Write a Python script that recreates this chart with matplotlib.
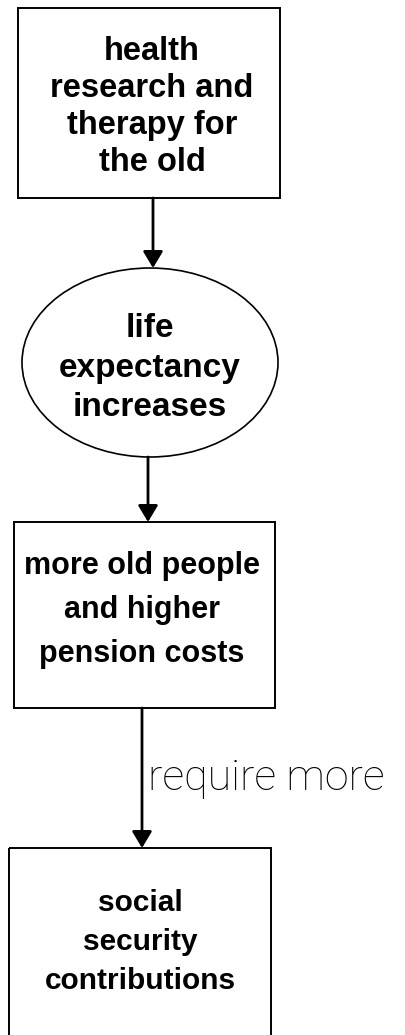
import matplotlib
matplotlib.use("Agg")
from matplotlib import pyplot as plt
from matplotlib.patches import Rectangle, Ellipse

# node texts and shapes, top to bottom
node_labels = [
    "health\nresearch and\ntherapy for\nthe old",
    "life\nexpectancy\nincreases",
    "more old people\nand higher\npension costs",
    "social\nsecurity\ncontributions",
]
node_shapes = ["box", "ellipse", "box", "box"]
edge_labels = ["", "", "require more"]

# layout in pixels (x0, y0, x1, y1), y downwards
node_extent = [
    (18, 8, 280, 198),
    (22, 268, 278, 457),
    (14, 522, 275, 708),
    (9, 848, 271, 1060),
]
text_center = [(152, 107), (150, 368), (142, 610), (140, 942)]
text_size = [23.5, 24, 22, 21.5]
text_gap = [1.25, 1.35, 1.6, 1.5]
arrow_x = [153, 148, 142]

fig = plt.figure(figsize=(4.06, 10.35), dpi=100)
ax = fig.add_axes([0, 0, 1, 1])
ax.set_xlim(0, 406)
ax.set_ylim(1035, 0)
ax.axis(False)

for i, (label, shape) in enumerate(zip(node_labels, node_shapes)):
    x0, y0, x1, y1 = node_extent[i]
    if shape == "box":
        ax.add_patch(Rectangle((x0, y0), x1 - x0, y1 - y0, fill=False, lw=1.4, ec="black"))
    else:
        ax.add_patch(Ellipse(((x0 + x1) / 2, (y0 + y1) / 2), x1 - x0, y1 - y0,
                             fill=False, lw=1.2, ec="black"))
    tx, ty = text_center[i]
    ax.text(tx, ty, label, ha="center", va="center", multialignment="center",
            family="Liberation Sans", fontweight="bold", fontsize=text_size[i],
            linespacing=text_gap[i])

for i, x in enumerate(arrow_x):
    y_start = node_extent[i][3]
    y_end = node_extent[i + 1][1]
    ax.annotate("", xy=(x, y_end), xytext=(x, y_start),
                arrowprops=dict(arrowstyle="-|>,head_length=1.0,head_width=0.6",
                                lw=2.0, color="black", shrinkA=0, shrinkB=0,
                                mutation_scale=10))
    if edge_labels[i]:
        ax.text(x + 6, 790, edge_labels[i], ha="left", va="baseline",
                family="Roboto", fontweight="light", fontsize=31)

fig.savefig("out.png", dpi=100)
